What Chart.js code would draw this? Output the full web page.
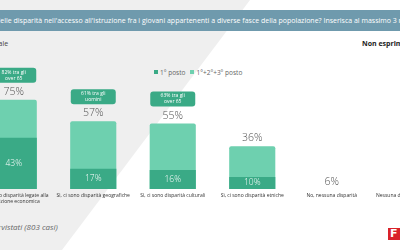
<!DOCTYPE html>
<html>
<head>
<meta charset="utf-8">
<script src="https://cdn.jsdelivr.net/npm/chart.js@4"></script>
<style>
  html, body { margin: 0; padding: 0; width: 400px; height: 250px; overflow: hidden; background: #fff; font-family: "Open Sans", sans-serif; }
  #bg { position: absolute; left: 0; top: 0; width: 400px; height: 250px; background: #efefef; clip-path: polygon(0 0, 250px 0, 62px 250px, 0 250px); }
  #band { position: absolute; left: 0; top: 10px; width: 400px; height: 21px; background: #6f9aad; color: #fff; font-size: 7px; line-height: 21px; white-space: nowrap; overflow: hidden; }
  #band span { position: relative; left: -4px; }
  .txt { position: absolute; white-space: nowrap; color: #444; }
  #total { left: -12px; top: 39px; font-size: 7px; }
  #noOpinion { left: 362px; top: 39px; font-size: 7px; font-weight: bold; color: #222; }
  #legend { left: 154px; top: 68px; font-size: 6.5px; color: #666; }
  #legend i { display: inline-block; width: 4px; height: 4px; margin: 0 2px 0 0; vertical-align: 1px; }
  #base { left: -36px; top: 221px; font-size: 8px; font-style: italic; color: #666; }
  #logo { position: absolute; left: 388px; top: 228px; width: 12px; height: 12px; background: #d9222a; color: #fff; font: bold 11px "DejaVu Sans", sans-serif; line-height: 12px; padding-left: 2px; box-sizing: border-box; }
  #chart { position: absolute; left: -26px; top: 0; }
</style>
</head>
<body>
<div id="bg"></div>
<div id="band"><span>delle disparità nell'accesso all'istruzione fra i giovani appartenenti a diverse fasce della popolazione? Inserisca al massimo 3 modalità</span></div>
<div class="txt" id="total">Totale</div>
<div class="txt" id="noOpinion">Non esprime opinione</div>
<div class="txt" id="legend"><i style="background:#3aaa86"></i>1° posto&nbsp;&nbsp;&nbsp;<i style="background:#6ed0af"></i>1°+2°+3° posto</div>
<div class="txt" id="base">Base: intervistati (803 casi)</div>
<div id="logo">F</div>
<canvas id="chart" width="477" height="250"></canvas>
<script>
const categories = [
  ["Sì, ci sono disparità legate alla", "condizione economica"],
  ["Sì, ci sono disparità geografiche"],
  ["Sì, ci sono disparità culturali"],
  ["Sì, ci sono disparità etniche"],
  ["No, nessuna disparità"],
  ["Nessuna di queste, non saprei"],
];
const topThree = [75, 57, 55, 36, 6, 3];
const firstPlace = [43, 17, 16, 10, null, null];
const callouts = [
  ["82% tra gli", "over 65"],
  ["61% tra gli", "uomini"],
  ["63% tra gli", "over 65"],
  null, null, null,
];

const DARK = "#3aaa86";
const LIGHT = "#6ed0af";
// the two "no" answers have no visible bar in the reference
const lightColors = topThree.map((v, i) => (i < 4 ? LIGHT : "transparent"));

const labelPlugin = {
  id: "barLabels",
  afterDatasetsDraw(chart) {
    const { ctx } = chart;
    const x = chart.scales.x;
    const y = chart.scales.y;
    const base = y.getPixelForValue(0);
    ctx.save();
    ctx.textAlign = "center";
    ctx.textBaseline = "middle";
    categories.forEach((lines, i) => {
      const cx = x.getPixelForValue(i);
      const top = y.getPixelForValue(topThree[i]);
      const hasBar = lightColors[i] !== "transparent";
      const labelY = hasBar ? top - 8 : top;

      ctx.fillStyle = "#555";
      ctx.font = "300 10.5px 'Open Sans'";
      ctx.fillText(topThree[i] + "%", cx, labelY);

      if (firstPlace[i] != null) {
        const mid = (y.getPixelForValue(firstPlace[i]) + base) / 2;
        ctx.fillStyle = "#fff";
        ctx.font = "300 8.5px 'Open Sans'";
        ctx.fillText(firstPlace[i] + "%", cx, mid);
      }

      if (callouts[i]) {
        const w = 45, h = 15;
        const bx = cx - w / 2;
        const by = top - 17 - h;
        ctx.fillStyle = DARK;
        ctx.beginPath();
        ctx.roundRect(bx, by, w, h, 3);
        ctx.fill();
        ctx.fillStyle = "#fff";
        ctx.font = "5px 'Open Sans'";
        ctx.fillText(callouts[i][0], cx, by + 4.5);
        ctx.fillText(callouts[i][1], cx, by + 10.5);
      }

      ctx.fillStyle = "#333";
      ctx.font = "5px 'Open Sans'";
      lines.forEach((ln, k) => ctx.fillText(ln, cx, base + 7 + k * 6));
    });
    ctx.restore();
  },
};

new Chart(document.getElementById("chart"), {
  type: "bar",
  data: {
    labels: categories,
    datasets: [
      {
        label: "1° posto",
        data: firstPlace,
        backgroundColor: DARK,
        order: 0,
        grouped: false,
        barPercentage: 0.58,
        categoryPercentage: 1,
      },
      {
        label: "1°+2°+3° posto",
        data: topThree,
        backgroundColor: lightColors,
        borderRadius: { topLeft: 2, topRight: 2 },
        borderSkipped: "bottom",
        order: 1,
        grouped: false,
        barPercentage: 0.58,
        categoryPercentage: 1,
      },
    ],
  },
  options: {
    responsive: false,
    animation: false,
    layout: { padding: { top: 70, bottom: 61, left: 0, right: 0 } },
    plugins: { legend: { display: false }, tooltip: { enabled: false } },
    scales: {
      x: { display: false },
      y: { display: false, min: 0, max: 100 },
    },
  },
  plugins: [labelPlugin],
});
</script>
</body>
</html>
